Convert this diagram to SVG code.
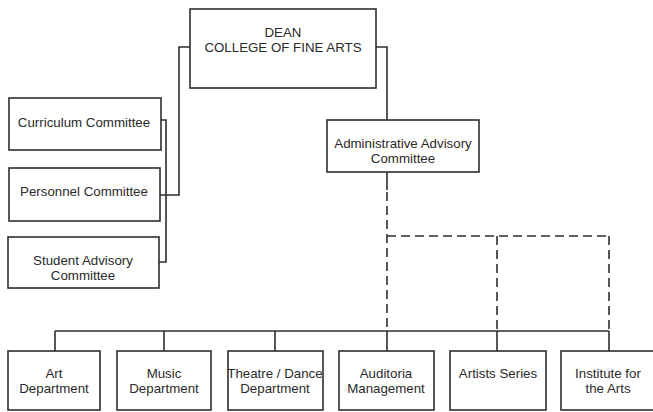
<svg xmlns="http://www.w3.org/2000/svg" width="653" height="412" viewBox="0 0 653 412">
  <style>
    .box { fill: #ffffff; stroke: #2e2e2e; stroke-width: 1.6; }
    .lbl { font-family: "Liberation Sans", Arial, sans-serif; font-size: 13.3px; fill: #2a2a2a; text-anchor: middle; }
    .ln { fill: none; stroke: #2e2e2e; stroke-width: 1.6; }
    .dash { fill: none; stroke: #2e2e2e; stroke-width: 1.6; stroke-dasharray: 9 5; }
  </style>
  <rect width="653" height="412" fill="#ffffff"/>

  <g id="connectors">
    <!-- Dean to committees -->
    <polyline class="ln" points="190,47 179,47 179,195 160,195"/>
    <polyline class="ln" points="161,120 166,120 166,262 159,262"/>
    <!-- Dean to advisory committee -->
    <polyline class="ln" points="376,47 387,47 387,120"/>
    <!-- Advisory committee, dashed links -->
    <line class="ln" x1="387" y1="172" x2="387" y2="190"/>
    <line class="dash" x1="387" y1="192" x2="387" y2="331"/>
    <line class="dash" x1="387" y1="236" x2="609" y2="236"/>
    <line class="dash" x1="497" y1="236" x2="497" y2="331"/>
    <line class="dash" x1="609" y1="236" x2="609" y2="331"/>
    <!-- Department bus -->
    <line class="ln" x1="55" y1="331" x2="609" y2="331"/>
    <line class="ln" x1="55" y1="331" x2="55" y2="351"/>
    <line class="ln" x1="164" y1="331" x2="164" y2="351"/>
    <line class="ln" x1="275" y1="331" x2="275" y2="351"/>
    <line class="ln" x1="387" y1="331" x2="387" y2="351"/>
    <line class="ln" x1="497" y1="331" x2="497" y2="351"/>
    <line class="ln" x1="609" y1="331" x2="609" y2="351"/>
  </g>

  <g id="dean">
    <rect class="box" x="190" y="9" width="186" height="79"/>
    <text class="lbl" x="283" y="37">DEAN</text>
    <text class="lbl" x="283" y="52">COLLEGE OF FINE ARTS</text>
  </g>

  <g id="curriculum">
    <rect class="box" x="9" y="98" width="152" height="52"/>
    <text class="lbl" x="84" y="127">Curriculum Committee</text>
  </g>

  <g id="personnel">
    <rect class="box" x="9" y="168" width="151" height="53"/>
    <text class="lbl" x="84" y="196">Personnel Committee</text>
  </g>

  <g id="student">
    <rect class="box" x="8" y="237" width="151" height="51"/>
    <text class="lbl" x="83" y="265">Student Advisory</text>
    <text class="lbl" x="83" y="280">Committee</text>
  </g>

  <g id="advisory">
    <rect class="box" x="327" y="120" width="152" height="52"/>
    <text class="lbl" x="403" y="148">Administrative Advisory</text>
    <text class="lbl" x="403" y="163">Committee</text>
  </g>

  <g id="art">
    <rect class="box" x="8" y="351" width="92" height="59"/>
    <text class="lbl" x="54" y="378">Art</text>
    <text class="lbl" x="54" y="393">Department</text>
  </g>

  <g id="music">
    <rect class="box" x="117" y="351" width="94" height="59"/>
    <text class="lbl" x="164" y="378">Music</text>
    <text class="lbl" x="164" y="393">Department</text>
  </g>

  <g id="theatre">
    <rect class="box" x="228" y="351" width="95" height="59"/>
    <text class="lbl" x="275" y="378">Theatre / Dance</text>
    <text class="lbl" x="275" y="393">Department</text>
  </g>

  <g id="auditoria">
    <rect class="box" x="339" y="351" width="95" height="59"/>
    <text class="lbl" x="386" y="378">Auditoria</text>
    <text class="lbl" x="386" y="393">Management</text>
  </g>

  <g id="artists">
    <rect class="box" x="450" y="351" width="96" height="59"/>
    <text class="lbl" x="498" y="378">Artists Series</text>
  </g>

  <g id="institute">
    <rect class="box" x="561" y="351" width="100" height="59"/>
    <text class="lbl" x="608" y="378">Institute for</text>
    <text class="lbl" x="608" y="393">the Arts</text>
  </g>
</svg>
